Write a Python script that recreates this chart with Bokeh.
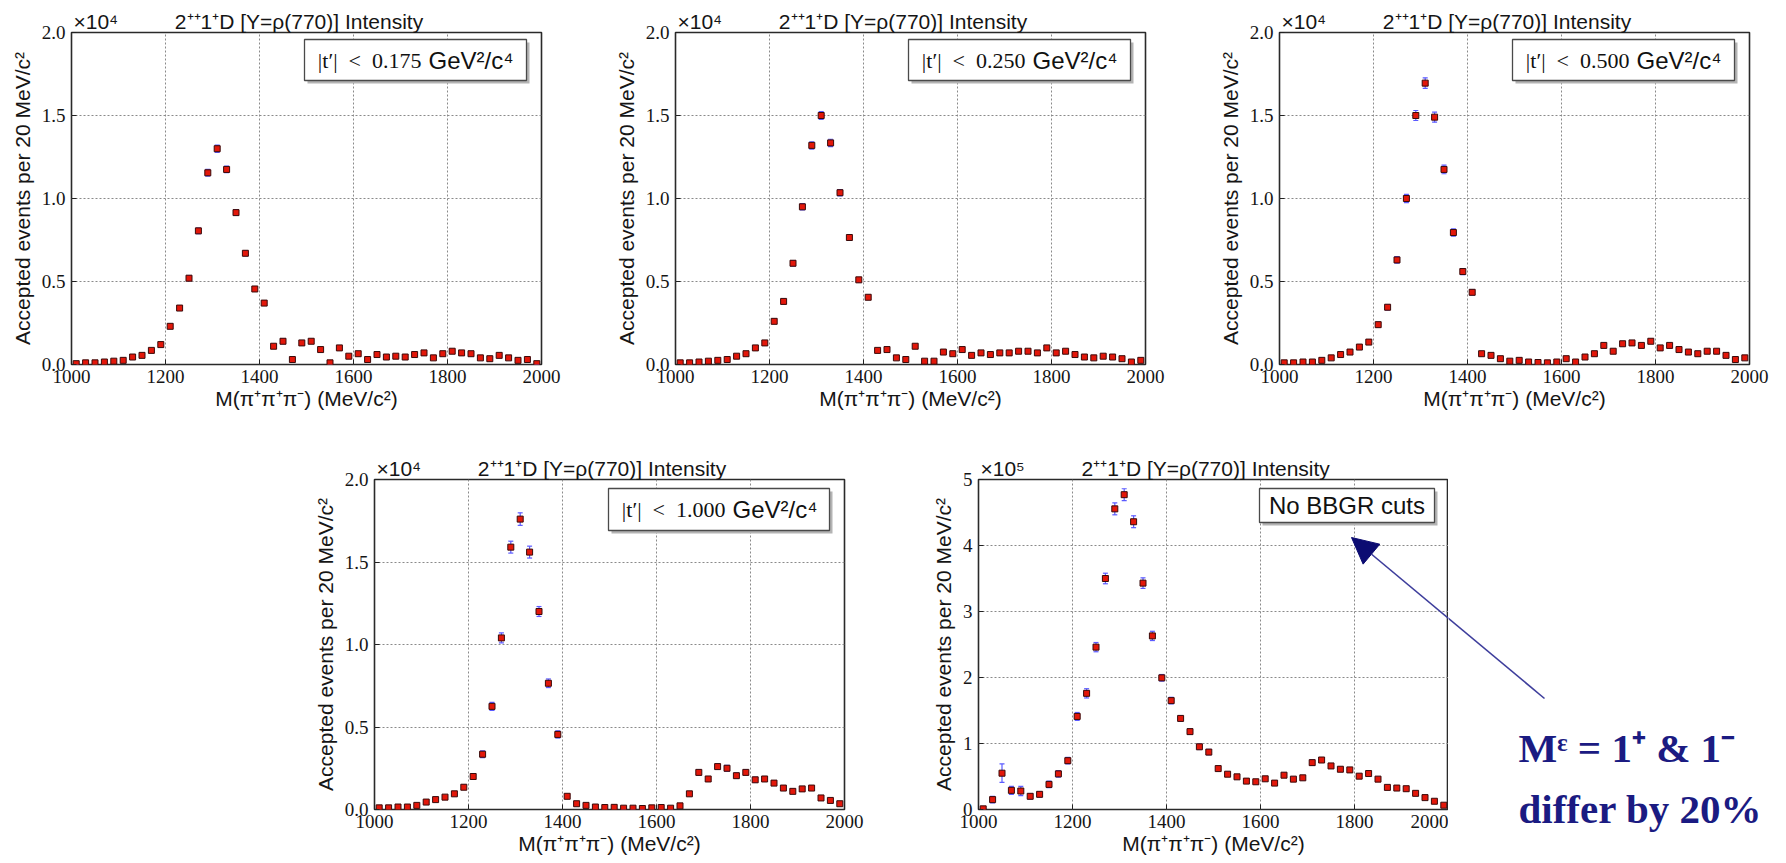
from bokeh.plotting import figure
from bokeh.models import (ColumnDataSource, Label, BoxAnnotation, Arrow, NormalHead,
                          Whisker, TeeHead, FixedTicker, PrintfTickFormatter, Spacer, Range1d)
from bokeh.layouts import row, column
from bokeh.embed import file_html
from bokeh.resources import INLINE

# ---------------- data ----------------
mass = [1010, 1030, 1050, 1070, 1090, 1110, 1130, 1150, 1170, 1190,
        1210, 1230, 1250, 1270, 1290, 1310, 1330, 1350, 1370, 1390,
        1410, 1430, 1450, 1470, 1490, 1510, 1530, 1550, 1570, 1590,
        1610, 1630, 1650, 1670, 1690, 1710, 1730, 1750, 1770, 1790,
        1810, 1830, 1850, 1870, 1890, 1910, 1930, 1950, 1970, 1990]

# |t'| < 0.175  (x10^4)
cnt_175 = [0.005, 0.01, 0.01, 0.015, 0.02, 0.025, 0.045, 0.055, 0.085, 0.12,
           0.23, 0.34, 0.52, 0.805, 1.155, 1.30, 1.175, 0.915, 0.67, 0.455,
           0.37, 0.11, 0.14, 0.03, 0.13, 0.14, 0.09, 0.01, 0.10, 0.05,
           0.065, 0.03, 0.06, 0.045, 0.05, 0.045, 0.06, 0.07, 0.04, 0.065,
           0.08, 0.07, 0.065, 0.04, 0.035, 0.055, 0.04, 0.025, 0.03, 0.005]
err_175 = [0.003, 0.004, 0.004, 0.005, 0.005, 0.006, 0.007, 0.008, 0.009, 0.010,
           0.012, 0.013, 0.015, 0.017, 0.020, 0.022, 0.020, 0.017, 0.015, 0.013,
           0.012, 0.010, 0.015, 0.008, 0.010, 0.010, 0.009, 0.006, 0.009, 0.007,
           0.007, 0.006, 0.007, 0.006, 0.006, 0.006, 0.007, 0.007, 0.006, 0.007,
           0.007, 0.007, 0.007, 0.006, 0.006, 0.006, 0.006, 0.005, 0.005, 0.004]

# |t'| < 0.250  (x10^4)
cnt_250 = [0.01, 0.01, 0.015, 0.02, 0.025, 0.03, 0.05, 0.065, 0.10, 0.13,
           0.26, 0.38, 0.61, 0.95, 1.32, 1.50, 1.335, 1.035, 0.765, 0.51,
           0.405, 0.085, 0.09, 0.04, 0.03, 0.11, 0.02, 0.02, 0.075, 0.065,
           0.09, 0.055, 0.07, 0.06, 0.07, 0.07, 0.08, 0.08, 0.07, 0.10,
           0.07, 0.08, 0.06, 0.045, 0.04, 0.05, 0.045, 0.035, 0.015, 0.025]
err_250 = [0.003, 0.004, 0.004, 0.005, 0.005, 0.006, 0.007, 0.008, 0.009, 0.010,
           0.012, 0.014, 0.016, 0.019, 0.022, 0.024, 0.022, 0.019, 0.016, 0.014,
           0.012, 0.010, 0.010, 0.008, 0.008, 0.010, 0.007, 0.007, 0.009, 0.008,
           0.008, 0.007, 0.008, 0.007, 0.008, 0.008, 0.008, 0.008, 0.008, 0.009,
           0.008, 0.008, 0.007, 0.007, 0.006, 0.007, 0.006, 0.006, 0.005, 0.005]

# |t'| < 0.500  (x10^4)
cnt_500 = [0.01, 0.01, 0.015, 0.015, 0.025, 0.04, 0.06, 0.075, 0.105, 0.135,
           0.24, 0.345, 0.63, 1.00, 1.50, 1.695, 1.49, 1.175, 0.795, 0.56,
           0.435, 0.065, 0.055, 0.035, 0.02, 0.025, 0.015, 0.012, 0.01, 0.015,
           0.035, 0.015, 0.045, 0.065, 0.115, 0.08, 0.125, 0.13, 0.115, 0.14,
           0.10, 0.115, 0.09, 0.075, 0.065, 0.08, 0.08, 0.055, 0.03, 0.04]
err_500 = [0.004, 0.004, 0.005, 0.005, 0.006, 0.007, 0.008, 0.009, 0.010, 0.012,
           0.014, 0.016, 0.020, 0.025, 0.030, 0.032, 0.030, 0.026, 0.022, 0.018,
           0.016, 0.009, 0.009, 0.008, 0.007, 0.007, 0.006, 0.006, 0.006, 0.006,
           0.008, 0.006, 0.008, 0.009, 0.011, 0.010, 0.011, 0.011, 0.011, 0.012,
           0.011, 0.011, 0.010, 0.009, 0.009, 0.009, 0.009, 0.008, 0.007, 0.007]

# |t'| < 1.000  (x10^4)
cnt_1000 = [0.01, 0.01, 0.015, 0.015, 0.025, 0.045, 0.06, 0.075, 0.095, 0.135,
            0.20, 0.335, 0.625, 1.04, 1.59, 1.76, 1.56, 1.20, 0.765, 0.455,
            0.08, 0.035, 0.025, 0.015, 0.012, 0.013, 0.008, 0.008, 0.006, 0.01,
            0.012, 0.008, 0.022, 0.095, 0.225, 0.185, 0.26, 0.25, 0.205, 0.225,
            0.18, 0.185, 0.16, 0.13, 0.11, 0.125, 0.13, 0.07, 0.055, 0.035]
err_1000 = [0.004, 0.004, 0.005, 0.005, 0.006, 0.008, 0.009, 0.010, 0.011, 0.013,
            0.016, 0.020, 0.024, 0.030, 0.036, 0.038, 0.036, 0.030, 0.026, 0.022,
            0.010, 0.008, 0.007, 0.006, 0.006, 0.006, 0.005, 0.005, 0.005, 0.005,
            0.006, 0.005, 0.007, 0.011, 0.016, 0.015, 0.017, 0.017, 0.016, 0.016,
            0.015, 0.015, 0.014, 0.013, 0.012, 0.012, 0.012, 0.010, 0.009, 0.008]

# No BBGR cuts (x10^5)
cnt_all = [0.01, 0.15, 0.55, 0.29, 0.28, 0.20, 0.23, 0.38, 0.54, 0.74,
           1.41, 1.76, 2.46, 3.50, 4.555, 4.77, 4.36, 3.43, 2.63, 1.995,
           1.65, 1.38, 1.18, 0.95, 0.87, 0.62, 0.535, 0.495, 0.43, 0.42,
           0.465, 0.40, 0.52, 0.46, 0.48, 0.71, 0.75, 0.66, 0.61, 0.60,
           0.505, 0.545, 0.46, 0.335, 0.325, 0.315, 0.245, 0.18, 0.125, 0.065]
err_all = [0.02, 0.05, 0.14, 0.06, 0.07, 0.04, 0.04, 0.05, 0.05, 0.05,
           0.06, 0.07, 0.07, 0.08, 0.09, 0.09, 0.09, 0.08, 0.07, 0.05,
           0.05, 0.04, 0.04, 0.04, 0.04, 0.03, 0.03, 0.03, 0.03, 0.03,
           0.03, 0.03, 0.03, 0.03, 0.03, 0.04, 0.03, 0.03, 0.03, 0.03,
           0.03, 0.03, 0.03, 0.03, 0.03, 0.03, 0.02, 0.02, 0.02, 0.02]

x_ticks = [1000, 1200, 1400, 1600, 1800, 2000]
y_ticks_e4 = [0.0, 0.5, 1.0, 1.5, 2.0]
y_ticks_e5 = [0, 1, 2, 3, 4, 5]

title_txt = "2\u207a\u207a1\u207aD [Y=\u03c1(770)] Intensity"
x_label = "M(\u03c0\u207a\u03c0\u207a\u03c0\u207b) (MeV/c\u00b2)"
y_label = "Accepted events per 20 MeV/c\u00b2"
note_1 = "M\u1d4b = 1\u207a & 1\u207b"
note_2 = "differ by 20%"
E4 = "\u00d710\u2074"
E5 = "\u00d710\u2075"

FW = 470
SERIF = "Liberation Serif"
SANS = "Liberation Sans"
TXT = "#151515"
GAP = "\u2003\u2003\u2002\u2009"   # horizontal gap between exponent and title


def fx(dx):
    return 1000 + dx * 1000.0 / FW


def fy(dy, ymax, fh):
    return ymax - dy * ymax / fh


def make_panel(vals, errs, ymax, yticks, yfmt, scale_txt, fh, left, right, top, bottom):
    p = figure(frame_width=FW, frame_height=fh, x_range=(1000, 2000), y_range=(0, ymax),
               output_backend="svg", toolbar_location=None,
               min_border_left=left, min_border_right=right,
               min_border_top=top, min_border_bottom=bottom)
    p.outline_line_color = "#2a2a2a"
    p.outline_line_width = 1.6
    p.background_fill_color = "white"
    p.border_fill_color = "white"

    # exponent + title above the frame
    p.title.text = scale_txt + GAP + title_txt
    p.title.align = "left"
    p.title.offset = 2
    p.title.standoff = 0
    p.title.text_font = SANS
    p.title.text_font_size = "21px"
    p.title.text_font_style = "normal"
    p.title.text_color = TXT

    p.xaxis.ticker = FixedTicker(ticks=x_ticks)
    p.yaxis.ticker = FixedTicker(ticks=yticks)
    p.yaxis.formatter = PrintfTickFormatter(format=yfmt)
    p.axis.axis_line_color = None
    p.axis.major_tick_in = 5
    p.axis.major_tick_out = 0
    p.axis.major_tick_line_color = "#222222"
    p.axis.minor_tick_line_color = None
    p.axis.major_label_text_font = SERIF
    p.axis.major_label_text_font_size = "19px"
    p.axis.major_label_text_color = TXT
    p.axis.axis_label_text_font = SANS
    p.axis.axis_label_text_font_size = "21px"
    p.axis.axis_label_text_font_style = "normal"
    p.axis.axis_label_text_color = TXT
    p.xaxis.axis_label = x_label
    p.yaxis.axis_label = y_label
    p.xaxis.major_label_standoff = 5
    p.xaxis.axis_label_standoff = 1
    p.yaxis.major_label_standoff = 6
    p.yaxis.axis_label_standoff = 5

    p.grid.grid_line_color = "#8a8a8a"
    p.grid.grid_line_dash = "2 2"
    p.grid.grid_line_width = 1

    src = ColumnDataSource(dict(x=mass, y=vals,
                                lo=[v - e for v, e in zip(vals, errs)],
                                hi=[v + e for v, e in zip(vals, errs)]))
    wc = "#5b5bff"
    p.add_layout(Whisker(source=src, base="x", upper="hi", lower="lo",
                         line_color=wc, line_width=1.2,
                         upper_head=TeeHead(size=5, line_color=wc, line_width=1.2),
                         lower_head=TeeHead(size=5, line_color=wc, line_width=1.2)))
    p.scatter("x", "y", source=src, marker="square", size=6,
              fill_color="#e3170a", line_color="#3a0a0a", line_width=1)
    return p


def add_box(p, ymax, fh, l, r, t, b):
    sh = 3
    p.add_layout(BoxAnnotation(left=fx(l + sh), right=fx(r + sh), top=fy(t + sh, ymax, fh),
                               bottom=fy(b + sh, ymax, fh), fill_color="#b4b4b4", fill_alpha=1,
                               line_color=None))
    p.add_layout(BoxAnnotation(left=fx(l), right=fx(r), top=fy(t, ymax, fh), bottom=fy(b, ymax, fh),
                               fill_color="white", fill_alpha=1, line_color="#4a4a4a",
                               line_width=1.3, line_alpha=1))


def add_tcut(p, ymax, fh, cut, l, r, t, b):
    add_box(p, ymax, fh, l, r, t, b)
    ym = fy((t + b) / 2.0, ymax, fh)
    p.add_layout(Label(x=fx(l + 117), y=ym, text="|t\u2032|\u2002<\u2002" + cut,
                       text_align="right", text_baseline="middle", text_font=SERIF,
                       text_font_size="22px", text_color="#111111"))
    p.add_layout(Label(x=fx(l + 124), y=ym, text="GeV\u00b2/c\u2074",
                       text_align="left", text_baseline="middle", text_font=SANS,
                       text_font_size="24px", text_color="#111111"))


TOP_H = 332
BOT_H = 330

p1 = make_panel(cnt_175, err_175, 2.0, y_ticks_e4, "%.1f", E4, TOP_H, 71, 67, 32, 66)
add_tcut(p1, 2.0, TOP_H, "0.175", 233, 455, 7, 48)
p2 = make_panel(cnt_250, err_250, 2.0, y_ticks_e4, "%.1f", E4, TOP_H, 67, 67, 32, 66)
add_tcut(p2, 2.0, TOP_H, "0.250", 233, 455, 7, 48)
p3 = make_panel(cnt_500, err_500, 2.0, y_ticks_e4, "%.1f", E4, TOP_H, 67, 36, 32, 66)
add_tcut(p3, 2.0, TOP_H, "0.500", 233, 455, 7, 48)

p4 = make_panel(cnt_1000, err_1000, 2.0, y_ticks_e4, "%.1f", E4, BOT_H, 63, 71, 49, 53)
add_tcut(p4, 2.0, BOT_H, "1.000", 234, 455, 9, 51)
p5 = make_panel(cnt_all, err_all, 5.0, y_ticks_e5, "%d", E5, BOT_H, 63, 0, 49, 53)
add_box(p5, 5.0, BOT_H, 281, 456, 9, 43)
p5.add_layout(Label(x=fx(368.5), y=fy(26, 5.0, BOT_H), text="No BBGR cuts", text_align="center",
                    text_baseline="middle", text_font=SANS, text_font_size="24px",
                    text_color="#111111"))

# ---- annotation: arrow from the note to the "No BBGR cuts" box ----
navy = "#1b1b82"
arrow_line = "#3e3e9c"
a_start = (fx(566), fy(219, 5.0, BOT_H))
a_end = (fx(373), fy(58, 5.0, BOT_H))
p5.add_layout(Arrow(x_start=a_start[0], y_start=a_start[1], x_end=a_end[0], y_end=a_end[1],
                    line_color=arrow_line, line_width=1.6,
                    end=NormalHead(size=26, fill_color="#0c0c72", line_color="#0c0c72")))

# companion canvas right of panel 5, sharing its coordinate system
ANN_W = 338
ann = figure(width=ANN_W, height=49 + BOT_H + 53,
             x_range=Range1d(fx(FW), fx(FW + ANN_W)),
             y_range=Range1d(fy(BOT_H + 53, 5.0, BOT_H), fy(-49, 5.0, BOT_H)),
             output_backend="svg", toolbar_location=None,
             x_axis_location=None, y_axis_location=None,
             min_border_left=0, min_border_right=0, min_border_top=0, min_border_bottom=0)
ann.outline_line_color = None
ann.grid.visible = False
ann.add_layout(Arrow(x_start=a_start[0], y_start=a_start[1], x_end=a_end[0], y_end=a_end[1],
                     line_color=arrow_line, line_width=1.6, end=None))
ann.add_layout(Label(x=fx(540), y=fy(268, 5.0, BOT_H), text=note_1,
                     text_align="left", text_baseline="alphabetic", text_font=SERIF,
                     text_font_size="41px", text_font_style="bold", text_color=navy))
ann.add_layout(Label(x=fx(540), y=fy(329, 5.0, BOT_H), text=note_2,
                     text_align="left", text_baseline="alphabetic", text_font=SERIF,
                     text_font_size="41px", text_font_style="bold", text_color=navy))

layout = column(row(p1, p2, p3),
                row(Spacer(width=310, height=10), p4, p5, column(ann)))

with open("out.html", "w") as f:
    f.write(file_html(layout, INLINE))
